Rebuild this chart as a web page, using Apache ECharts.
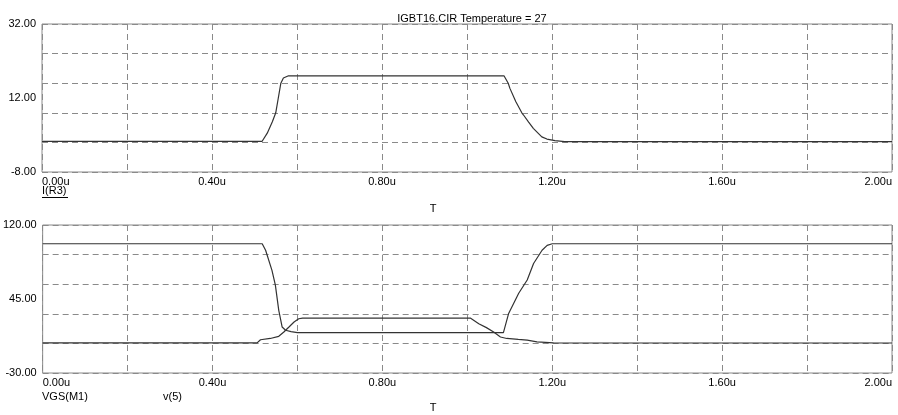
<!DOCTYPE html>
<html><head><meta charset="utf-8">
<script src="https://cdn.jsdelivr.net/npm/echarts@6/dist/echarts.min.js"></script>
<style>html,body{margin:0;padding:0;background:#fff}#c{width:898px;height:415px}</style>
</head><body><div id="c"></div>
<script>
// ---- data (time in microseconds) ----
const titleText = 'IGBT16.CIR Temperature = 27';
const xMin = 0, xMax = 2.0, xGridStep = 0.2, xLabelStep = 0.4;
const topYLabelValues = [-8, 12, 32];
const bottomYLabelValues = [-30, 45, 120];
const topSeriesName = 'I(R3)';
const bottomSeriesNames = ['VGS(M1)', 'v(5)'];

const iR3 = [
  [0, 0.3], [0.518, 0.3], [0.530, 2.5], [0.542, 5.6], [0.550, 8], [0.556, 12],
  [0.562, 16], [0.568, 17.4], [0.580, 18], [1.087, 18], [1.097, 16], [1.101, 14.6],
  [1.115, 11], [1.129, 8], [1.133, 7.4], [1.145, 5.5], [1.156, 3.8], [1.176, 1.5],
  [1.188, 0.9], [1.207, 0.5], [1.23, 0.2], [2.0, 0.2]
];
const vgsM1 = [
  [0, 101], [0.517, 101], [0.525, 94.4], [0.540, 74], [0.548, 59], [0.556, 33.5],
  [0.564, 16.6], [0.572, 13.3], [0.585, 12], [0.600, 11], [1.085, 11], [1.097, 30],
  [1.121, 50.8], [1.141, 64.3], [1.156, 81], [1.176, 94.4], [1.188, 99.4], [1.200, 101],
  [2.0, 101]
];
const v5 = [
  [0, 0.5], [0.505, 0.5], [0.513, 3.7], [0.536, 5], [0.556, 7.2], [0.568, 11.6],
  [0.580, 16.6], [0.592, 21.7], [0.603, 25], [0.612, 25.7], [1.007, 25.7], [1.027, 20],
  [1.045, 16], [1.062, 11.6], [1.078, 6.5], [1.093, 5], [1.120, 4], [1.141, 3.3],
  [1.164, 1.6], [1.203, 0.6], [2.0, 0.4]
];

// ---- chart ----
const FONT = 'Liberation Sans, Arial, sans-serif';
const GRID_COLOR = '#8a8a8a';
const LINE_COLOR = '#333';
const chart = echarts.init(document.getElementById('c'), null, {renderer: 'canvas'});

function xAxis(gridIndex, margin) {
  return {
    type: 'value', gridIndex, min: xMin, max: xMax, interval: xGridStep,
    axisLine: {show: false}, axisTick: {show: false},
    splitLine: {show: true, lineStyle: {color: GRID_COLOR, type: [6, 4], width: 1}},
    axisLabel: {
      show: true, margin, color: '#000', fontFamily: FONT, fontSize: 11,
      alignMinLabel: 'left', alignMaxLabel: 'right', showMinLabel: true, showMaxLabel: true,
      formatter: v => {
        const k = Math.round(v / xLabelStep * 1000) / 1000;
        return Math.abs(k - Math.round(k)) < 1e-6 ? v.toFixed(2) + 'u' : '';
      }
    }
  };
}
function yLabelAxis(gridIndex, labels) {
  return {
    type: 'value', gridIndex, position: 'left',
    min: labels[0], max: labels[labels.length - 1], interval: labels[1] - labels[0],
    axisLine: {show: false}, axisTick: {show: false}, splitLine: {show: false},
    axisLabel: {show: true, margin: 6, color: '#000', fontFamily: FONT, fontSize: 11,
      showMinLabel: true, showMaxLabel: true, formatter: v => v.toFixed(2)}
  };
}
function ySplitAxis(gridIndex, min, max, step) {
  return {
    type: 'value', gridIndex, position: 'left', min, max, interval: step,
    axisLine: {show: false}, axisTick: {show: false}, axisLabel: {show: false},
    splitLine: {show: true, lineStyle: {color: GRID_COLOR, type: [6, 4], width: 1}}
  };
}
function line(name, data, xi, yi) {
  return {
    name, type: 'line', data, xAxisIndex: xi, yAxisIndex: yi,
    showSymbol: false, symbol: 'none', smooth: false, silent: true,
    lineStyle: {color: LINE_COLOR, width: 1.2}
  };
}

const txt = (x, y, text, extra) => Object.assign({
  type: 'text', x, y,
  style: Object.assign({text, fill: '#000', font: '11px ' + FONT, textVerticalAlign: 'middle'}, extra || {})
});

chart.setOption({
  animation: false,
  backgroundColor: '#fff',
  title: {text: titleText, left: 467, top: 8, textAlign: 'center',
    textStyle: {fontFamily: FONT, fontSize: 11, fontWeight: 'normal', color: '#000'}},
  grid: [
    {left: 42, right: 6, top: 24, height: 148, show: true, borderColor: GRID_COLOR, borderWidth: 1, backgroundColor: '#fff'},
    {left: 42, right: 6, top: 225, height: 148, show: true, borderColor: GRID_COLOR, borderWidth: 1, backgroundColor: '#fff'}
  ],
  xAxis: [xAxis(0, 4), xAxis(1, 4)],
  yAxis: [
    yLabelAxis(0, topYLabelValues),
    ySplitAxis(0, -8, 32, 8),
    yLabelAxis(1, bottomYLabelValues),
    ySplitAxis(1, -30, 120, 30)
  ],
  series: [
    line(topSeriesName, iR3, 0, 1),
    line(bottomSeriesNames[0], vgsM1, 1, 3),
    line(bottomSeriesNames[1], v5, 1, 3)
  ],
  graphic: [
    txt(42, 191, topSeriesName),
    {type: 'line', shape: {x1: 42, y1: 197.5, x2: 68, y2: 197.5}, style: {stroke: '#000', lineWidth: 1}},
    txt(433, 209, 'T', {textAlign: 'center'}),
    txt(42, 397, bottomSeriesNames[0]),
    txt(163, 397, bottomSeriesNames[1]),
    txt(433, 408, 'T', {textAlign: 'center'})
  ]
});
</script>
</body></html>
